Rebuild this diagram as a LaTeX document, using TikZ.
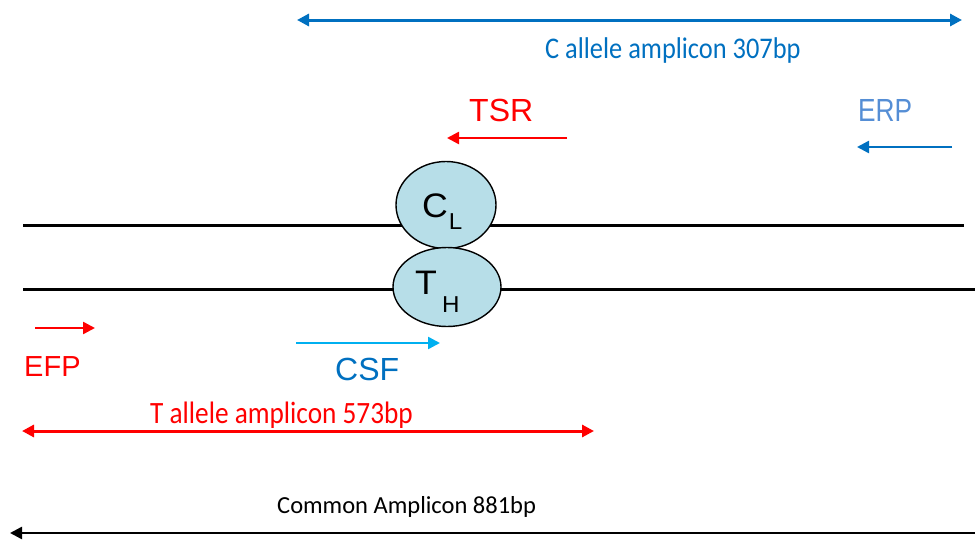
\documentclass[tikz,border=0pt]{standalone}
\usepackage{fontspec}
\setmainfont{Liberation Sans}
\newfontfamily\calibri{Carlito}
\newfontfamily\calibrinarrow[FakeStretch=0.88]{Carlito}
\newfontfamily\arialnarrow[FakeStretch=0.82]{Liberation Sans}
\newfontfamily\arialwide[FakeStretch=1.05]{Liberation Sans}
\usetikzlibrary{arrows.meta,shapes.geometric}
\definecolor{ampblue}{HTML}{0070C0}
\definecolor{erpblue}{HTML}{558ED5}
\definecolor{csfblue}{HTML}{00B0F0}
\definecolor{snpfill}{HTML}{B7DEE8}
\newcommand{\fsz}[1]{\fontsize{#1}{#1}\selectfont}
\begin{document}
\begin{tikzpicture}[x=1pt, y=-1pt, >={Triangle[length=12pt,width=12pt]},
  amplicon/.style={<->, line width=3pt},
  primer/.style={->, line width=2.5pt},
  strand/.style={line width=3pt},
  snp/.style={ellipse, draw, line width=1.4pt, fill=snpfill, inner sep=0pt},
  lbl/.style={inner sep=0pt, anchor=base west}]
\useasboundingbox (0,0) rectangle (975,541);
\clip (0,0) rectangle (975,541);
% amplicon ends and primer ends
\coordinate (cA) at (297,20);   \coordinate (cB) at (962,20);
\coordinate (tA) at (22,431);   \coordinate (tB) at (594,431);
\coordinate (mA) at (10,533);   \coordinate (mB) at (987,533);
\coordinate (tsrA) at (567,138); \coordinate (tsrB) at (447,138);
\coordinate (erpA) at (952,147); \coordinate (erpB) at (857,147);
\coordinate (efpA) at (35,328);  \coordinate (efpB) at (95,328);
\coordinate (csfA) at (296,343); \coordinate (csfB) at (440,343);
\coordinate (s1A) at (23,225);  \coordinate (s1B) at (964,225);
\coordinate (s2A) at (23,289);  \coordinate (s2B) at (975,289);
% DNA strands
\draw[strand] (s1A) -- (s1B);
\draw[strand] (s2A) -- (s2B);
% alleles
\node[snp, minimum width=100pt, minimum height=87pt] (cl) at (446,205) {};
\node[snp, minimum width=108pt, minimum height=79pt] (th) at (447,287) {};
\node[lbl] (cltxt) at (422,217) {\arialwide\fsz{34}C\kern1pt\raisebox{-12pt}{\fsz{23}L}};
\node[lbl] (thtxt) at (415,294) {\arialwide\fsz{34}T\kern5pt\raisebox{-18pt}{\fsz{23}H}};
% amplicons
\draw[amplicon, ampblue] (cA) -- (cB);
\node[lbl, text=ampblue] (clab) at (545,58) {\calibrinarrow\fsz{30}C allele amplicon 307bp};
\draw[amplicon, red] (tA) -- (tB);
\node[lbl, text=red] (tlab) at (150,423) {\calibrinarrow\fsz{31}T allele amplicon 573bp};
\draw[amplicon, line width=2.5pt] (mA) -- (mB);
\node[lbl] (mlab) at (277,513) {\calibri\fsz{24.5}Common Amplicon 881bp};
% primers
\draw[primer, red] (tsrA) -- (tsrB);
\node[lbl, text=red] (tsr) at (469,121) {\fsz{32}TSR};
\draw[primer, ampblue] (erpA) -- (erpB);
\node[lbl, text=erpblue] (erp) at (858,121) {\arialnarrow\fsz{32}ERP};
\draw[primer, red] (efpA) -- (efpB);
\node[lbl, text=red] (efp) at (24,376) {\fsz{29}EFP};
\draw[primer, csfblue] (csfA) -- (csfB);
\node[lbl, text=ampblue] (csf) at (335,380) {\fsz{32}CSF};
\end{tikzpicture}
\end{document}
